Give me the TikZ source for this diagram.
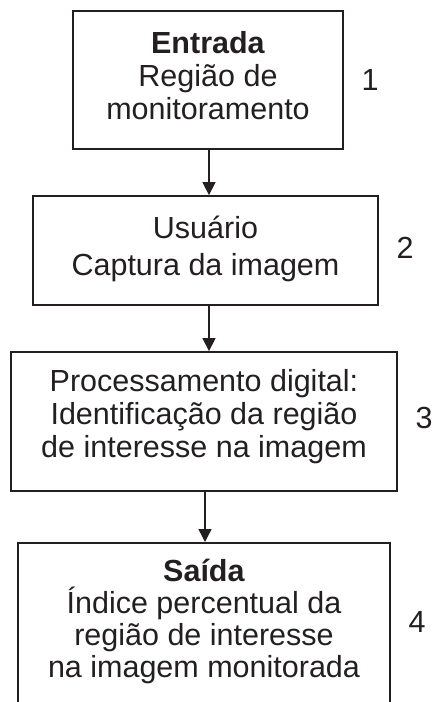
\documentclass[tikz,border=0pt]{standalone}
\usepackage{fontspec}
\setmainfont{Liberation Sans}
\usetikzlibrary{arrows.meta,calc}
\definecolor{ink}{HTML}{231F20}
\begin{document}
\begin{tikzpicture}[x=1pt,y=-1pt,
  box/.style={draw=ink,line width=1.8pt,align=center,inner sep=0pt,
    font=\fontsize{30.5}{33}\selectfont,text=ink},
  num/.style={font=\fontsize{30.5}{33}\selectfont,text=ink,inner sep=0pt},
  conn/.style={draw=ink,line width=1.4pt,-{Triangle[length=13pt,width=13pt]}}]
\useasboundingbox (0,0) rectangle (432,702);
\clip (0,0) rectangle (432,702);
\node[box,minimum width=270pt,minimum height=138pt,text depth=10pt] (b1) at (208,80)
  {\textbf{Entrada}\\Região de\\monitoramento};
\node[box,minimum width=345pt,minimum height=109pt,font=\fontsize{30.5}{37}\selectfont,text depth=10pt] (b2) at (205.5,250.5)
  {Usuário\\Captura da imagem};
\node[box,minimum width=386pt,minimum height=139pt,text depth=16pt] (b3) at (204,421.5)
  {Processamento digital:\\ Identificação da região\\de interesse na imagem};
\node[box,minimum width=372pt,minimum height=196pt,anchor=north] (b4) at (204,542)
  {};
\node[font=\fontsize{30.5}{32}\selectfont,text=ink,align=center,inner sep=0pt,anchor=north] (t4) at (204,559)
  {\textbf{Saída}\\Índice percentual da\\região de interesse\\na imagem monitorada};
\node[num] (n1) at (370,80) {1};
\node[num] (n2) at (405,248) {2};
\node[num] (n3) at (424,418) {3};
\node[num] (n4) at (417,622) {4};
\draw[conn] ([xshift=1pt]b1.south) -- ([xshift=1pt]b1.south |- b2.north);
\draw[conn] ([xshift=3.5pt]b2.south) -- ([xshift=3.5pt]b2.south |- b3.north);
\draw[conn] ([xshift=1pt]b3.south) -- ([xshift=1pt]b3.south |- b4.north);
\end{tikzpicture}
\end{document}
